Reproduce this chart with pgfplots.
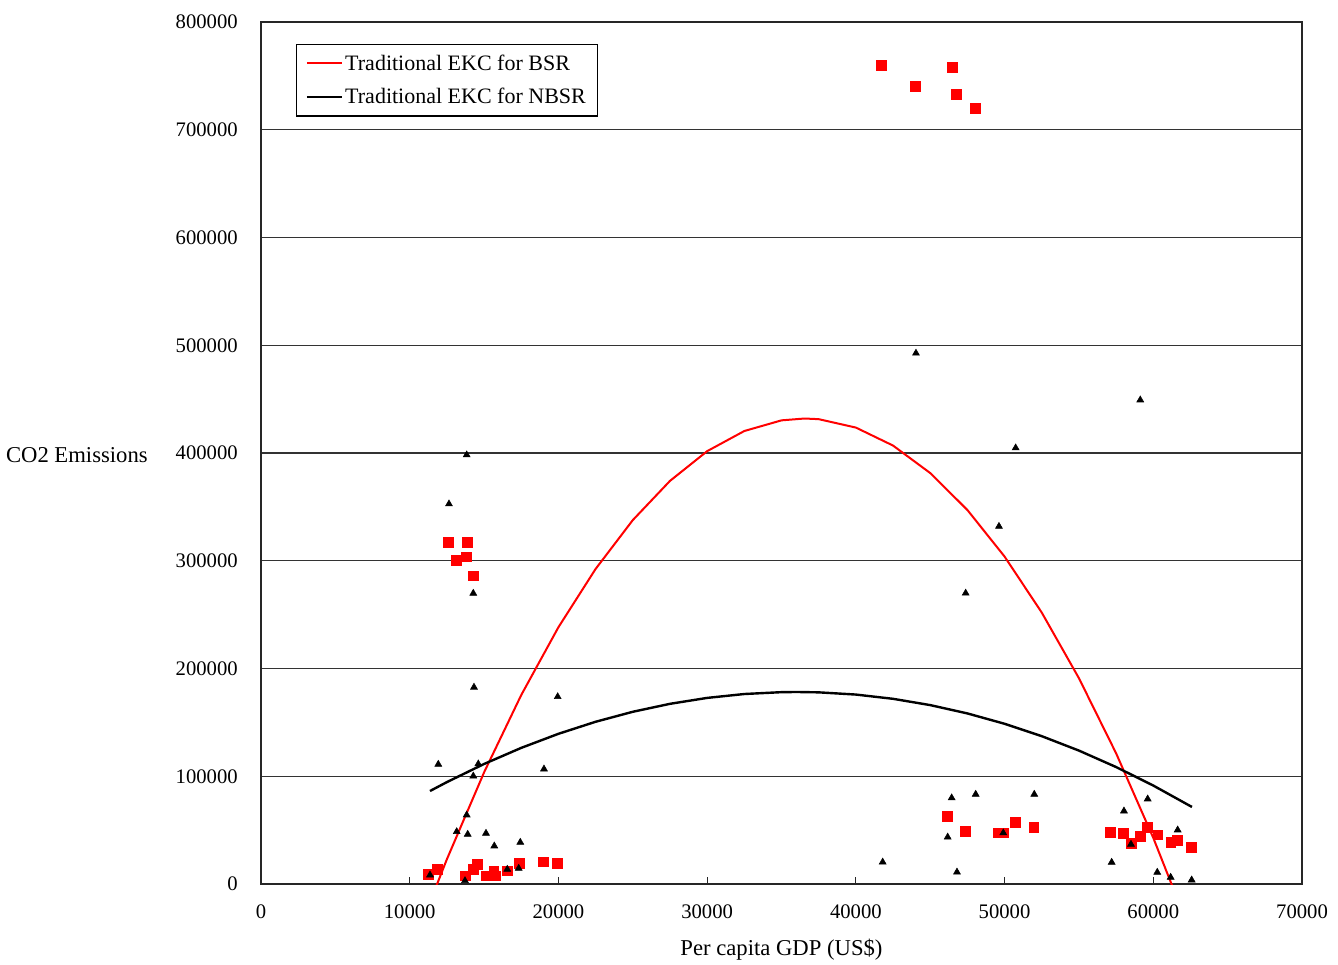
\documentclass[border=0pt]{standalone}
\usepackage{pgfplots}
\pgfplotsset{compat=1.18}
\usepackage{fontspec}
\setmainfont{Liberation Serif}
\definecolor{exred}{RGB}{255,0,0}
\begin{document}
\begin{tikzpicture}[x=1pt,y=1pt]
\path[use as bounding box] (-195.75,-60) rectangle (807.75,663);
\begin{axis}[
  at={(0,0)}, anchor=south west,
  scale only axis, width=780.75pt, height=646.5pt,
  xmin=0, xmax=70000, ymin=0, ymax=800000,
  xtick={0,10000,...,70000}, ytick={0,100000,...,800000},
  scaled ticks=false,
  /pgf/number format/1000 sep={},
  /pgf/number format/fixed,
  /pgf/number format/assume math mode=true,
  tick label style={font=\fontsize{15.5}{18}\selectfont, inner sep=0pt},
  xticklabel style={anchor=center, yshift=-21pt},
  yticklabel style={anchor=east, xshift=-17.25pt},
  ymajorgrids,
  grid style={black!80, line width=1.1pt},
  axis line style={black!85, line width=1.1pt},
  tick align=inside, major tick length=5pt,
  xtick pos=bottom, ytick pos=left,
  ytick style={draw=none},
  xtick style={black!85, line width=0.8pt},
  every axis x label/.style={at={(axis description cs:0.5,0)}, anchor=center, yshift=-49.5pt, font=\fontsize{17}{20}\selectfont},
  every axis y label/.style={at={(axis description cs:0,0.498)}, anchor=east, inner sep=0pt, xshift=-84.75pt, font=\fontsize{17}{20}\selectfont},
  xlabel={Per capita GDP (US\$)},
  ylabel={CO2 Emissions},
  legend style={at={(axis description cs:0.0336,0.9745)}, anchor=north west,
    draw=black, line width=0.9pt, font=\fontsize{16.5}{19.5}\selectfont,
    inner xsep=7pt, inner ysep=5.5pt, row sep=8.3pt, cells={anchor=west}},
  legend image code/.code={\draw[#1, line width=1.5pt] (0pt,0pt) -- (26pt,0pt);},
]
% BSR scatter (red squares)
\addplot[only marks, mark=square*, mark size=3.6pt, color=exred, forget plot] coordinates {
(41690,760100) (43975,740600) (46463,758200) (46732,733200) (48009,720200)
(12574,317400) (13851,317400) (13112,300700) (13784,303800) (14255,286100)
(11250,9000) (11855,13640) (13717,7700) (14275,13640) (14544,18560)
(15109,7700) (15647,12340) (15734,7700) (16561,12340) (17368,19210)
(18982,20700) (19923,19490)
(46147,62740) (47357,49100) (49576,47430) (49912,47430) (50699,57450) (51956,52440)
(57087,47980) (57961,47050) (58499,37770) (59104,44550) (59575,52620)
(60294,45750) (61168,38700) (61612,40840) (62553,34060)
};
% NBSR scatter (black triangles)
\addplot[only marks, mark=triangle*, mark size=3pt, color=black, forget plot] coordinates {
(13831,398200) (12641,352700) (14275,269800) (14322,182600) (19950,173800)
(11922,111100) (14611,111400) (14275,100200) (19029,106700) (13831,64040)
(13159,48540) (13899,46130) (15129,47060) (15687,35270) (17436,38700)
(11364,8350) (13717,3060) (16561,13640) (17328,14570)
(44042,492600) (50746,404700) (49623,331900) (47384,269900) (46443,79900)
(48057,83250) (51997,83250) (46174,43530) (49912,47430) (41803,20330) (46799,11040)
(59124,449200) (59622,78890) (58028,67750) (61639,50120) (58499,36850)
(57201,20140) (60267,10860) (61168,6220) (62580,3710)
};
% Traditional EKC for BSR
\addplot[color=exred, line width=1.5pt, mark=none] coordinates {
(11250,-20650) (12500,22970) (15000,103600) (17500,175400) (20000,238300)
(22500,292400) (25000,337700) (27500,374100) (30000,401700) (32500,420400)
(35000,430300) (36545,432000) (37500,431400) (40000,423600) (42500,406900)
(45000,381400) (47500,347100) (50000,303900) (52500,251900) (55000,191000)
(57500,121300) (60000,42800) (62553,-46500)
};
\addlegendentry{Traditional EKC for BSR}
% Traditional EKC for NBSR
\addplot[color=black, line width=1.8pt, mark=none] coordinates {
(11364,86300) (12500,94570) (15000,111400) (17500,126340) (20000,139390)
(22500,150560) (25000,159830) (27500,167215) (30000,172710) (32500,176320)
(35000,178040) (36027,178200) (37500,177870) (40000,175815) (42500,171870)
(45000,166035) (47500,158310) (50000,148700) (52500,137200) (55000,123815)
(57500,108540) (60000,91370) (62600,71500)
};
\addlegendentry{Traditional EKC for NBSR}
\end{axis}
\end{tikzpicture}
\end{document}
